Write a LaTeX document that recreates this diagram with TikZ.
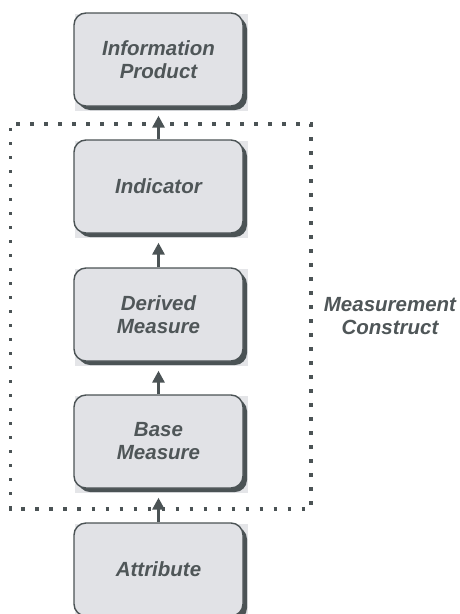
\documentclass[tikz,border=0pt]{standalone}
\usepackage{fontspec}
\setmainfont{Liberation Sans}
\usetikzlibrary{arrows.meta,shadows,backgrounds}
\definecolor{boxfill}{HTML}{E1E2E6}
\definecolor{boxline}{HTML}{4B5355}
\definecolor{txt}{HTML}{4F5658}
\definecolor{cornergray}{HTML}{E4E5E8}
\tikzset{
  x=1pt,y=1pt,
  mbox/.style={draw=boxline, line width=1.4pt, fill=boxfill, rounded corners=12pt,
    minimum width=169pt, minimum height=93pt, inner sep=0pt,
    align=center, text=txt, font=\fontsize{20.5}{23}\selectfont\bfseries\itshape,
    drop shadow={shadow xshift=4pt, shadow yshift=-4pt, fill=boxline, opacity=1}},
  arr/.style={draw=boxline, line width=3pt, -{Triangle[length=12pt,width=12pt]}},
  dotbox/.style={draw=boxline, line width=3.3pt, dash pattern=on 3.3pt off 10.7pt, dash phase=-4pt},
  lbl/.style={align=center, text=txt, font=\fontsize{20.5}{23}\selectfont\bfseries\itshape}
}
\begin{document}
\begin{tikzpicture}
\useasboundingbox (0,0) rectangle (459,-614);
\clip (0,0) rectangle (459,-614);
\node[mbox] (info) at (158.5,-59.5) {Information\\Product};
\node[mbox] (ind)  at (158.5,-186.5) {Indicator};
\node[mbox] (der)  at (158.5,-314.5) {Derived\\Measure};
\node[mbox] (base) at (158.5,-441.5) {Base\\Measure};
\node[mbox] (attr) at (158.5,-569.5) {Attribute};
\begin{scope}[on background layer]
\foreach \n in {info,ind,der,base,attr}{
  \fill[cornergray] ([xshift=2pt,yshift=-2pt]\n.north west) rectangle ([xshift=4pt,yshift=-4pt]\n.south east);
}
\end{scope}
\coordinate (dnw) at (10.5,-124);
\coordinate (dse) at (311,-509);
\draw[dotbox] (dnw) rectangle (dse);
\node[lbl] (mc) at (390,-316) {Measurement\\Construct};
\draw[arr] (ind.north) -- ([yshift=-9pt]info.south);
\draw[arr] (der.north) -- ([yshift=-9pt]ind.south);
\draw[arr] (base.north) -- ([yshift=-9pt]der.south);
\draw[arr] (attr.north) -- ([yshift=-9pt]base.south);
\end{tikzpicture}
\end{document}
